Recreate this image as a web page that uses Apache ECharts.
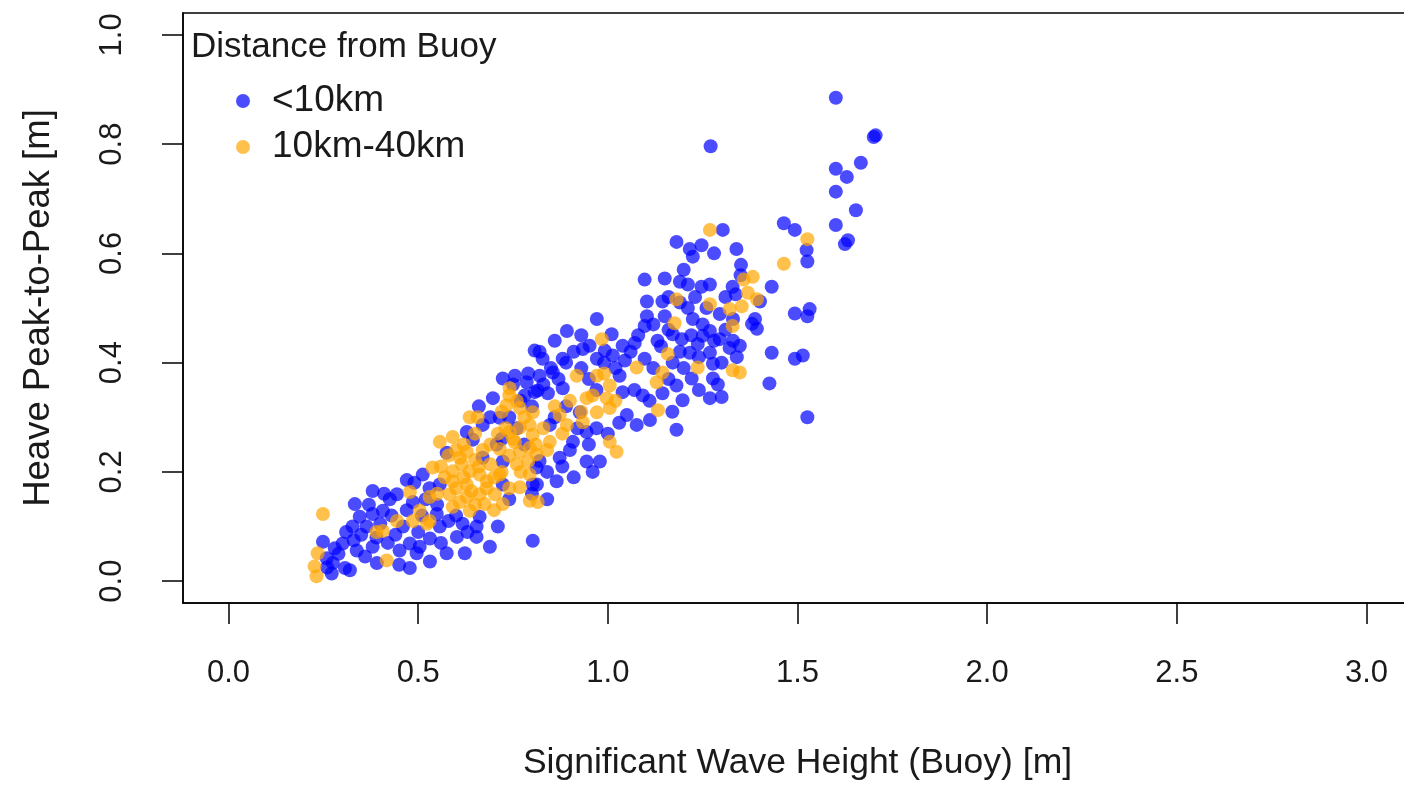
<!DOCTYPE html>
<html>
<head>
<meta charset="utf-8">
<script src="https://cdn.jsdelivr.net/npm/echarts@6/dist/echarts.min.js"></script>
<style>
html,body{margin:0;padding:0;background:#fff;overflow:hidden;width:1404px;height:786px;}
#chart{width:1420px;height:786px;}
</style>
</head>
<body>
<div id="chart"></div>
<script>
// ---- data (Significant wave height [m], Heave peak-to-peak [m]) ----
const nearBuoy = [ // <10km
[1.601,0.885],[1.701,0.813],[1.706,0.816],[1.271,0.796],[1.667,0.766],[1.601,0.755],[1.630,0.740],[1.601,0.713],[1.654,0.679],[1.601,0.652],[1.625,0.617],[1.633,0.624],
[1.464,0.655],[1.493,0.643],[1.524,0.606],[1.526,0.585],[1.432,0.539],[1.388,0.480],[1.393,0.462],[1.493,0.490],[1.532,0.498],[1.526,0.485],[1.432,0.418],[1.493,0.407],[1.514,0.413],[1.426,0.362],[1.526,0.300],[1.348,0.431],[1.337,0.525],[1.401,0.512],[1.380,0.471],[1.351,0.579],
[1.303,0.643],[1.181,0.621],[1.216,0.608],[1.247,0.615],[1.224,0.594],[1.339,0.608],[1.097,0.552],[1.150,0.554],[1.190,0.548],[1.211,0.543],[1.247,0.539],[1.269,0.543],[1.329,0.539],[1.103,0.512],[1.144,0.512],[1.211,0.500],[1.295,0.489],[1.103,0.485],[1.150,0.485],[1.224,0.480],[1.097,0.467],[1.269,0.458],[1.295,0.443],[1.250,0.449],[1.071,0.436],[1.131,0.440],[1.171,0.452],[1.195,0.443],[1.237,0.434],[1.321,0.427],[1.097,0.407],[1.216,0.418],[1.269,0.418],[1.171,0.400],[1.277,0.398],[1.181,0.358],[1.221,0.371],[1.277,0.371],[1.092,0.340],[1.144,0.344],[1.197,0.331],[1.269,0.335],[1.300,0.337],[1.076,0.286],[1.181,0.277],
[0.971,0.480],[0.892,0.458],[1.010,0.452],[1.039,0.431],[0.934,0.425],[0.828,0.407],[0.881,0.407],[0.971,0.407],[1.013,0.413],[0.820,0.376],[0.855,0.382],[1.031,0.376],[0.881,0.353],[1.039,0.346],[1.050,0.304],[0.926,0.309],[0.847,0.286],[0.908,0.255],[0.944,0.273],[0.873,0.226],[0.944,0.219],[0.979,0.219],[0.812,0.208],[0.865,0.183],[0.802,0.177],[0.807,0.422],[0.842,0.344],[0.815,0.349],
[0.723,0.371],[0.786,0.364],[0.807,0.346],[0.697,0.335],[0.670,0.286],[0.715,0.299],[0.628,0.273],[0.644,0.259],[0.707,0.250],[0.575,0.235],[0.670,0.226],[0.723,0.219],[0.512,0.195],[0.557,0.177],[0.723,0.177],[0.813,0.177],[0.549,0.123],[0.662,0.118],[0.557,0.100],[0.617,0.105],[0.654,0.100],[0.602,0.081],[0.654,0.081],[0.504,0.063],[0.802,0.074],[0.781,0.340],[0.755,0.376],
[0.380,0.165],[0.444,0.159],[0.486,0.145],[0.346,0.118],[0.380,0.123],[0.407,0.129],[0.327,0.100],[0.364,0.100],[0.301,0.069],[0.338,0.056],[0.380,0.063],[0.451,0.056],[0.478,0.069],[0.496,0.051],[0.249,0.072],[0.259,0.042],[0.275,0.033],[0.272,0.014],[0.391,0.033],
[0.307,0.024],[0.531,0.078],[0.575,0.051],[0.623,0.051],[0.689,0.063],[0.531,0.036],[0.478,0.024],[0.425,0.150],[0.333,0.141],[0.952,0.431],[0.992,0.422],[1.045,0.404],[1.111,0.295],[0.470,0.185],
[0.28,0.06],[0.31,0.09],[0.33,0.075],[0.35,0.085],[0.36,0.045],[0.39,0.08],[0.40,0.105],[0.42,0.07],[0.43,0.12],[0.44,0.085],[0.46,0.10],[0.47,0.13],[0.50,0.09],[0.51,0.12],[0.52,0.15],[0.45,0.03],[0.37,0.14],[0.41,0.16],[0.53,0.17],[0.49,0.18],[0.55,0.14],[0.58,0.11],[0.56,0.07],[0.60,0.12],[0.63,0.09],[0.29,0.05],[0.32,0.02],[0.26,0.025],
[0.74,0.30],[0.77,0.33],[0.80,0.32],[0.83,0.36],[0.85,0.39],[0.87,0.37],[0.89,0.40],[0.91,0.42],[0.93,0.39],[0.95,0.37],[0.97,0.35],[0.99,0.40],[1.02,0.39],[0.86,0.30],[0.89,0.32],[0.92,0.28],[0.95,0.25],[0.97,0.28],[1.00,0.27],[1.03,0.29],[0.84,0.20],[0.88,0.21],[0.91,0.19],[0.96,0.20],[0.90,0.24],[0.82,0.22],[0.78,0.25],[0.76,0.28],[0.72,0.26],[0.69,0.30],[0.66,0.32],[0.75,0.36],[0.79,0.38],[0.82,0.42],[0.86,0.44],[0.93,0.45],[0.80,0.16],[0.84,0.15],[0.74,0.15],[0.71,0.10],
[1.06,0.42],[1.08,0.45],[1.12,0.47],[1.14,0.43],[1.16,0.46],[1.19,0.42],[1.22,0.45],[1.25,0.47],[1.28,0.44],[1.31,0.46],[1.33,0.44],[1.12,0.39],[1.16,0.37],[1.20,0.39],[1.24,0.41],[1.30,0.40],[1.34,0.41],[1.07,0.35],[1.11,0.33],[1.17,0.31],[1.24,0.35],[1.29,0.36],[1.19,0.51],[1.23,0.52],[1.26,0.50],[1.31,0.52],[1.16,0.52],[1.33,0.48],[1.35,0.56],[1.28,0.60],[1.20,0.57]
];
const farBuoy = [ // 10km-40km
[1.526,0.626],[1.464,0.581],[1.382,0.557],[1.393,0.516],[1.348,0.382],[1.358,0.552],[1.369,0.528],[1.353,0.503],
[1.269,0.643],[1.181,0.516],[1.269,0.507],[1.321,0.498],[1.176,0.472],[1.329,0.467],[1.158,0.416],[1.076,0.391],[1.144,0.382],[1.237,0.391],[1.329,0.386],[1.129,0.364],[1.132,0.313],
[0.984,0.443],[0.918,0.376],[0.971,0.376],[1.005,0.358],[0.944,0.335],[0.997,0.335],[0.802,0.309],[0.873,0.304],[0.971,0.309],[1.005,0.317],[0.892,0.286],[0.934,0.291],[0.802,0.268],[0.847,0.255],[1.005,0.255],[1.023,0.237],[0.812,0.232],[0.815,0.145],
[0.741,0.353],[0.733,0.322],[0.768,0.317],[0.636,0.300],[0.657,0.300],[0.741,0.273],[0.768,0.281],[0.794,0.286],[0.591,0.264],[0.557,0.255],[0.768,0.237],[0.794,0.244],[0.610,0.226],[0.628,0.237],[0.760,0.214],[0.538,0.208],[0.591,0.201],[0.636,0.201],[0.662,0.195],[0.715,0.195],[0.794,0.195],[0.591,0.183],[0.628,0.177],[0.681,0.183],[0.768,0.172],[0.530,0.154],[0.583,0.159],[0.628,0.154],[0.662,0.159],[0.723,0.141],[0.794,0.147],[0.504,0.129],[0.591,0.136],[0.636,0.129],[0.523,0.105],
[0.249,0.123],[0.478,0.163],[0.444,0.110],[0.486,0.110],[0.407,0.092],[0.417,0.038],[0.235,0.051],[0.227,0.027],[0.232,0.009],
[0.615,0.214],[0.650,0.222],[0.690,0.214],[0.702,0.159],[0.675,0.141],[0.715,0.242],[0.755,0.254],
[0.57,0.19],[0.60,0.17],[0.62,0.19],[0.64,0.165],[0.66,0.21],[0.68,0.17],[0.70,0.19],[0.72,0.20],[0.74,0.23],[0.75,0.26],[0.73,0.28],[0.71,0.27],[0.69,0.25],[0.67,0.24],[0.65,0.27],[0.62,0.25],[0.60,0.24],[0.58,0.23],[0.56,0.21],[0.61,0.145],[0.65,0.14],[0.70,0.13],[0.74,0.17],[0.77,0.20],[0.79,0.22],[0.78,0.30],[0.76,0.33],[0.74,0.34],[0.72,0.31],[0.88,0.27],[0.90,0.33],[0.96,0.34],[0.99,0.38],[1.02,0.33],[0.93,0.31],[0.86,0.32],[0.83,0.28],[0.84,0.24],[0.81,0.25],
[0.39,0.09],[0.53,0.11],[0.55,0.16]
];
const seriesNames = ['<10km', '10km-40km'];
const xTicks = [0, 0.5, 1.0, 1.5, 2.0, 2.5, 3.0];
const yTicks = [0, 0.2, 0.4, 0.6, 0.8, 1.0];
const xTitle = 'Significant Wave Height (Buoy) [m]';
const yTitle = 'Heave Peak-to-Peak [m]';
const legendTitle = 'Distance from Buoy';

const FONT = "'Liberation Sans', Arial, sans-serif";
const TXT = '#1a1a1a';

const chart = echarts.init(document.getElementById('chart'), null, {renderer: 'canvas', width: 1420, height: 786});
chart.setOption({
  animation: false,
  backgroundColor: '#fff',
  textStyle: {fontFamily: FONT},
  title: {
    text: legendTitle, left: 191, top: 27, padding: 0,
    textStyle: {fontFamily: FONT, fontSize: 35, fontWeight: 'normal', color: TXT, lineHeight: 40}
  },
  legend: {
    data: seriesNames, orient: 'vertical', left: 236, top: 78, padding: 0,
    itemGap: 0, itemWidth: 48, itemHeight: 14, icon: 'circle',
    textStyle: {fontFamily: FONT, fontSize: 37, color: TXT, lineHeight: 46}
  },
  grid: {
    left: 183, top: 13, width: 1229, height: 597, show: true,
    borderColor: '#000', borderWidth: 1.5, backgroundColor: 'transparent', containLabel: false
  },
  xAxis: {
    type: 'value', min: -0.12, max: 3.12,
    name: xTitle, nameLocation: 'middle', nameGap: 142,
    nameTextStyle: {fontFamily: FONT, fontSize: 35.5, color: TXT},
    axisLine: {show: true, onZero: false, lineStyle: {color: '#000', width: 1.5}},
    axisTick: {show: true, length: 21, inside: false, customValues: xTicks, lineStyle: {color: '#000', width: 1.5}},
    axisLabel: {customValues: xTicks, formatter: v => v.toFixed(1), fontFamily: FONT, fontSize: 31, color: TXT, margin: 55},
    splitLine: {show: false}
  },
  yAxis: {
    type: 'value', min: -0.04, max: 1.04,
    name: yTitle, nameLocation: 'middle', nameGap: 126, nameRotate: 90,
    nameTextStyle: {fontFamily: FONT, fontSize: 36.5, color: TXT},
    axisLine: {show: true, onZero: false, lineStyle: {color: '#000', width: 1.5}},
    axisTick: {show: true, length: 21, inside: false, customValues: yTicks, lineStyle: {color: '#000', width: 1.5}},
    axisLabel: {customValues: yTicks, formatter: v => v.toFixed(1), rotate: 90, fontFamily: FONT, fontSize: 31, color: TXT, margin: 55},
    splitLine: {show: false}
  },
  series: [
    {name: seriesNames[0], type: 'scatter', data: nearBuoy, symbol: 'circle', symbolSize: 14,
     itemStyle: {color: '#0000FF', opacity: 0.7}, emphasis: {disabled: true}},
    {name: seriesNames[1], type: 'scatter', data: farBuoy, symbol: 'circle', symbolSize: 14,
     itemStyle: {color: '#FFA500', opacity: 0.7}, emphasis: {disabled: true}}
  ]
});
</script>
</body>
</html>
